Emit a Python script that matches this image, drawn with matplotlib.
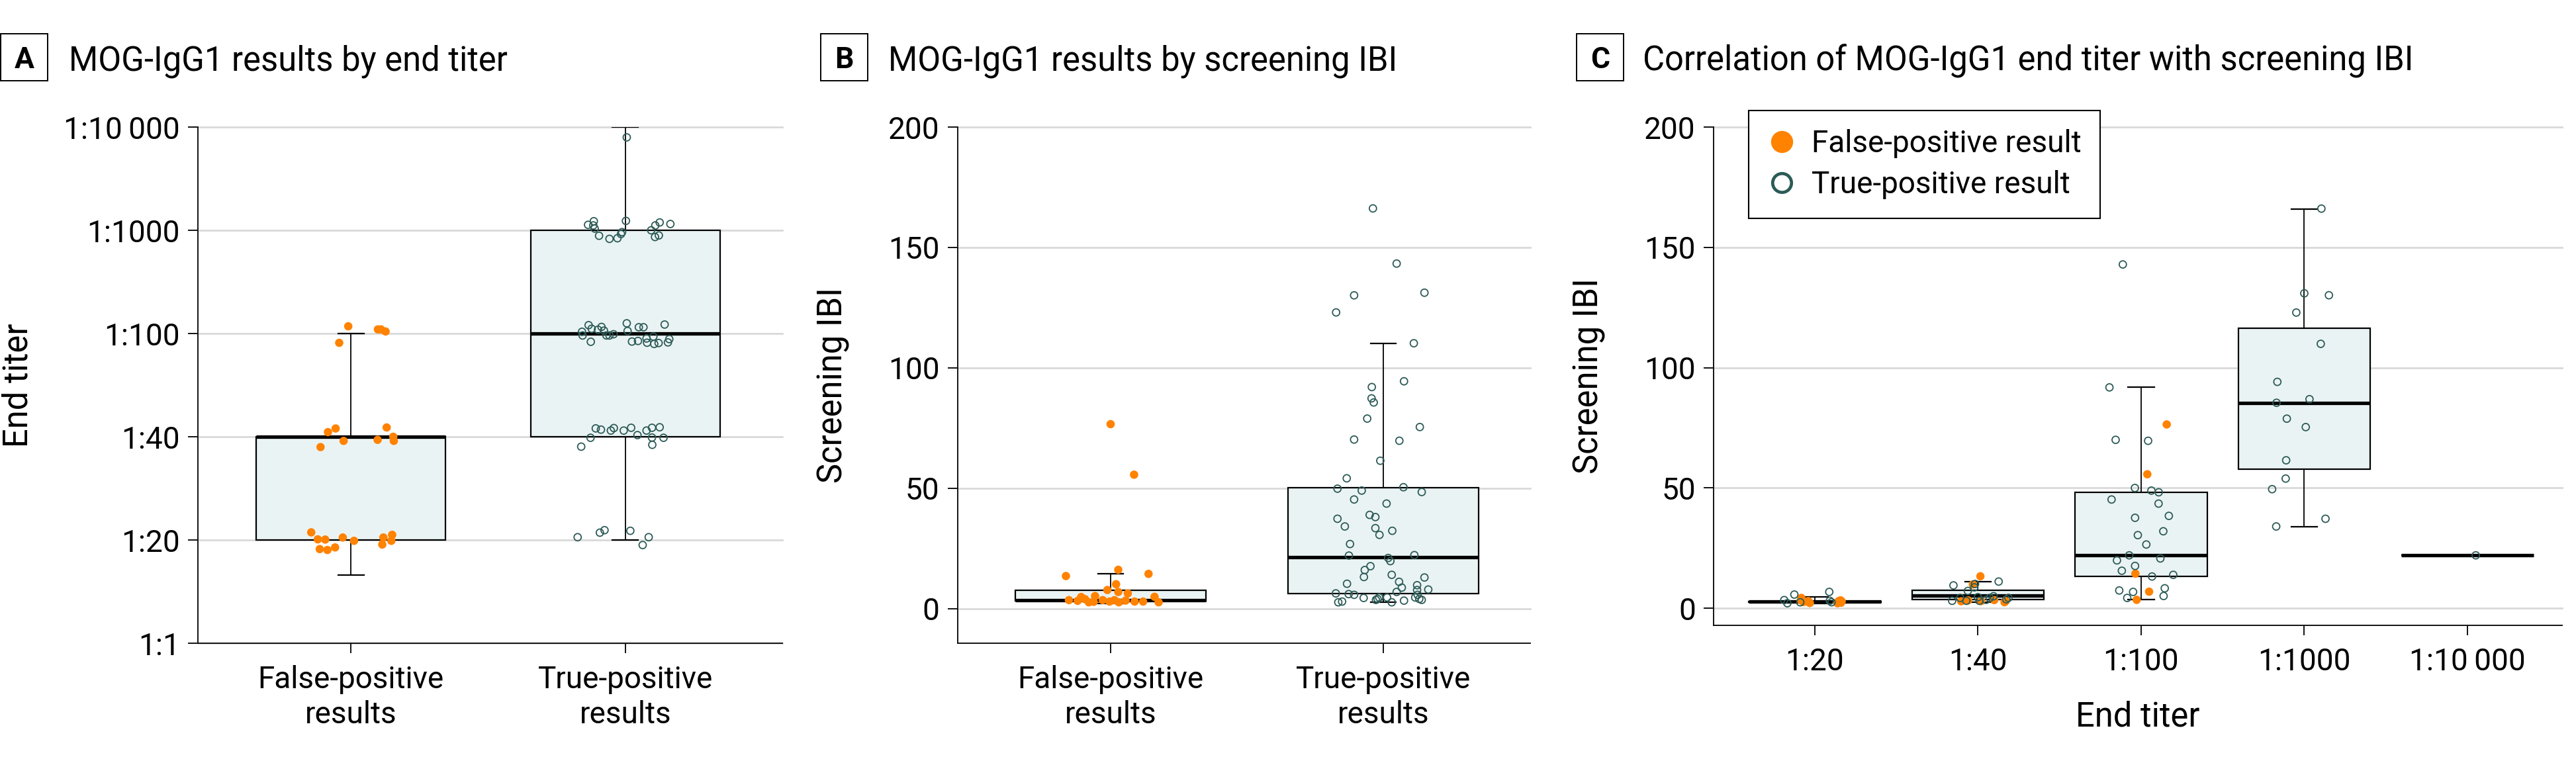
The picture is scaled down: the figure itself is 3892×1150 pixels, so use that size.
import matplotlib
matplotlib.use("Agg")
import matplotlib.pyplot as plt
from matplotlib.patches import Rectangle
from matplotlib.lines import Line2D

plt.rcParams['font.family'] = ['Roboto', 'DejaVu Sans']

# ---------------- data ----------------
groups_ab = ["False-positive\nresults", "True-positive\nresults"]
titer_labels = ["1:1", "1:20", "1:40", "1:100", "1:1000", "1:10\u2009000"]
c_titers = ["1:20", "1:40", "1:100", "1:1000", "1:10\u2009000"]

# Panel A: horizontal jitter and plotted titer level (0=1:1 ... 5=1:10000, with vertical jitter)
a_fp_dx = [-0.010, -0.043, 0.098, 0.109, 0.126,
           -0.084, -0.056, -0.111, -0.027, 0.130, 0.097, 0.154, 0.156,
           -0.145, -0.121, -0.094, -0.030, 0.011, -0.114, -0.086, -0.058, 0.118, 0.150, 0.147, 0.114]
a_fp_y = [3.07, 2.91, 3.04, 3.04, 3.02,
          2.045, 2.08, 1.90, 1.96, 2.09, 1.97, 2.00, 1.96,
          1.074, 1.006, 1.004, 1.024, 0.992, 0.912, 0.903, 0.928, 1.024, 1.05, 0.992, 0.956]
a_tp_dx = [0.005,
           -0.115, -0.136, -0.117, -0.112, -0.096, -0.058, -0.029, -0.016, -0.012, 0.002, 0.094, 0.109, 0.125, 0.164, 0.108, 0.122,
           -0.134, -0.123, -0.100, -0.087, -0.078, -0.158, -0.156, -0.126, -0.069, -0.058, -0.043, 0.005, 0.008,
           0.049, 0.066, 0.143, 0.024, 0.046, 0.077, 0.079, 0.102, 0.105, 0.121, 0.155, 0.160,
           -0.108, -0.089, -0.053, -0.042, -0.006, 0.021, 0.077, 0.097, 0.125, 0.044, 0.097, 0.139, -0.127, -0.161, 0.098,
           -0.174, -0.093, -0.076, 0.018, 0.085, 0.063]
a_tp_y = [4.90,
          4.088, 4.053, 4.047, 4.017, 3.947, 3.917, 3.923, 3.964, 3.982, 4.091, 4.0, 4.047, 4.076, 4.061, 3.935, 3.95,
          3.081, 3.046, 3.037, 3.064, 3.028, 3.017, 2.981, 2.92, 2.981, 2.981, 2.993, 3.099, 3.025,
          3.061, 3.061, 3.087, 2.922, 2.928, 2.952, 2.911, 2.970, 2.899, 2.908, 2.914, 2.946,
          2.081, 2.069, 2.06, 2.084, 2.06, 2.087, 2.06, 2.087, 2.092, 2.016, 1.992, 1.99, 1.99, 1.904, 1.922,
          1.027, 1.071, 1.095, 1.089, 1.027, 0.951]
# box statistics, panel A (in titer levels)
a_q1 = [1.0, 2.0]
a_med = [2.0, 3.0]
a_q3 = [2.0, 4.0]
a_lo = [0.66, 1.0]
a_hi = [3.0, 5.0]

# Panel B: screening IBI
b_fp_dx = [0.000, 0.086, -0.164, 0.028, 0.139, 0.020, -0.012, 0.028, 0.063, 0.161, -0.153, -0.121, -0.108,
           -0.094, -0.080, -0.062, -0.057, -0.029, -0.004, 0.014, 0.030, 0.055, 0.088, 0.119, 0.176]
b_fp_ibi = [76.6, 55.6, 13.5, 16.1, 14.4, 10.1, 7.7, 6.9, 6.3, 4.9, 3.5, 3.2, 4.8,
            3.9, 2.6, 2.8, 5.2, 3.5, 2.9, 3.5, 2.6, 3.3, 2.9, 2.9, 2.6]
b_tp_dx = [-0.038, 0.049, -0.107, 0.151, -0.173, 0.112, 0.076, -0.042, -0.043, -0.035, -0.059, 0.134, -0.107,
           0.059, -0.011, -0.134, -0.168, -0.079, 0.074, 0.141, -0.107, 0.012, -0.050, -0.029, -0.168, -0.141,
           -0.029, 0.033, -0.014, -0.122, -0.126, 0.114, 0.018, 0.026, -0.047, -0.068, -0.071, 0.031, 0.151,
           0.058, -0.133, 0.068, 0.124, 0.165, -0.174, -0.127, -0.107, -0.072, -0.021, -0.015, 0.014, 0.049,
           0.076, 0.124, 0.126, 0.132, 0.141, -0.165, -0.151, -0.027, 0.031, 0.117]
b_tp_ibi = [166.2, 143.3, 130.1, 131.2, 123.0, 110.2, 94.4, 92.0, 87.3, 85.6, 78.9, 75.4, 70.2,
            69.7, 61.4, 54.1, 49.8, 49.0, 50.4, 48.4, 45.3, 43.6, 38.9, 38.0, 37.3, 34.1,
            33.4, 32.3, 30.6, 26.8, 22.0, 22.2, 21.0, 19.7, 17.6, 16.0, 13.1, 14.0, 12.9,
            11.1, 10.3, 8.7, 9.7, 7.9, 6.3, 6.0, 5.7, 4.4, 4.0, 4.6, 4.6, 6.9,
            3.3, 7.7, 5.7, 4.0, 3.6, 2.6, 2.9, 3.6, 2.6, 4.6]
b_q1 = [3.3, 6.2]
b_med = [3.5, 21.3]
b_q3 = [7.6, 50.2]
b_lo = [2.0, 2.6]
b_hi = [14.5, 110.2]

# Panel C: end titer category index (0=1:20 ... 4=1:10000), jitter, IBI
c_fp_cat = [0] * 12 + [1] * 8 + [2] * 5
c_fp_dx = [-0.082, -0.038, 0.147, 0.161, -0.085, -0.040, 0.150, 0.158, -0.070, 0.140, -0.030, 0.165,
           0.015, -0.031, -0.103, 0.163, -0.060, 0.020, 0.100, 0.170,
           0.157, 0.038, -0.035, 0.049, -0.027]
c_fp_ibi = [4.3, 2.5, 3.0, 2.3, 3.4, 3.0, 2.6, 3.3, 2.6, 2.1, 2.2, 2.9,
            13.3, 9.9, 2.9, 2.5, 3.3, 3.0, 3.4, 3.0,
            76.4, 55.7, 14.4, 6.9, 3.5]
c_tp_cat = [0] * 7 + [1] * 15 + [2] * 26 + [3] * 15 + [4]
c_tp_dx = [-0.187, -0.168, -0.125, -0.089, 0.089, 0.092, 0.103,
           -0.150, 0.127, -0.018, -0.022, -0.062, -0.158, -0.109, -0.071, 0.009, 0.072, 0.096, 0.174, 0.187, 0.000, 0.050,
           -0.112, -0.194, -0.156, 0.043, -0.038, 0.063, 0.108, -0.181, 0.107, -0.037, 0.170, 0.136, -0.020,
           0.032, -0.073, -0.148, -0.037, 0.118, -0.118, 0.067, 0.197, -0.134, -0.049, 0.145, 0.138, -0.085,
           0.105, 0.000, 0.151, -0.049, 0.101, -0.165, -0.170, 0.032, -0.107, 0.009, -0.111, -0.114, -0.197, 0.130, -0.172,
           0.051]
c_tp_ibi = [3.4, 2.1, 5.7, 2.5, 6.8, 3.1, 2.5,
            9.5, 11.1, 10.1, 8.7, 7.2, 3.1, 4.3, 3.1, 3.1, 4.3, 5.0, 3.7, 4.3, 4.6, 3.5,
            142.9, 91.8, 70.0, 69.6, 50.0, 48.9, 48.2, 45.2, 43.5, 37.6, 38.4, 32.0, 30.4,
            26.5, 22.0, 19.9, 17.6, 20.7, 15.6, 13.2, 13.9, 7.4, 6.8, 8.3, 5.1, 4.3,
            166.1, 130.9, 130.1, 122.9, 109.9, 94.1, 85.4, 86.9, 78.8, 75.3, 61.5, 53.9, 49.5, 37.2, 34.0,
            22.0]
c_q1 = [2.4, 3.7, 13.2, 57.7, 22.0]
c_med = [2.7, 5.2, 22.0, 85.2, 22.0]
c_q3 = [2.9, 7.4, 48.2, 116.5, 22.0]
c_lo = [2.0, 2.5, 3.5, 34.0, 22.0]
c_hi = [4.6, 11.1, 91.9, 165.9, 22.0]

# ---------------- style ----------------
ORANGE = "#FF8200"
TEAL = "#2C5B57"
BOXFILL = "#EAF3F4"
GRID = "#D9D9D9"
TICK_FS = 33
LABEL_FS = 36.5

W, H = 3892, 1150
fig = plt.figure(figsize=(W / 100, H / 100), dpi=100)
fig.patch.set_facecolor("white")


def axes_px(l, r, t, b):
    return fig.add_axes([l / W, 1 - b / H, (r - l) / W, (b - t) / H])


def style(ax, yticks, ylabels):
    for s in ["top", "right"]:
        ax.spines[s].set_visible(False)
    for s in ["left", "bottom"]:
        ax.spines[s].set_linewidth(1.4)
        ax.spines[s].set_color("#111111")
    ax.set_yticks(yticks)
    ax.set_yticklabels(ylabels)
    ax.tick_params(axis="y", direction="out", length=11, width=1.4, labelsize=TICK_FS, pad=8.6, color="#111111")
    ax.tick_params(axis="x", direction="out", length=11, width=1.4, labelsize=TICK_FS, pad=13, color="#111111")
    for v in yticks:
        ax.axhline(v, color=GRID, lw=2.0, zorder=0, clip_on=False)


def draw_boxes(ax, q1, med, q3, lo, hi, width, capw):
    stats = []
    for i in range(len(q1)):
        stats.append(dict(q1=q1[i], med=med[i], q3=q3[i], whislo=lo[i], whishi=hi[i], fliers=[]))
    ax.bxp(stats, positions=list(range(len(q1))), widths=width, patch_artist=True, showfliers=False,
           manage_ticks=False, capwidths=capw, zorder=1,
           boxprops=dict(facecolor=BOXFILL, edgecolor="black", linewidth=1.6),
           medianprops=dict(color="black", linewidth=3.8, solid_capstyle="butt"),
           whiskerprops=dict(color="black", linewidth=1.3),
           capprops=dict(color="black", linewidth=1.6))


def fp_scatter(ax, x, y):
    ax.scatter(x, y, s=82, color=ORANGE, edgecolors="none", zorder=3, clip_on=False)


def tp_scatter(ax, x, y):
    ax.scatter(x, y, s=62, facecolors="none", edgecolors=TEAL, linewidths=1.3, zorder=3, clip_on=False)


# ---------------- Panel A ----------------
axA = axes_px(299, 1182, 192, 972)
axA.set_xlim(-0.558, 1.572)
axA.set_ylim(0, 5)
style(axA, list(range(len(titer_labels))), titer_labels)
axA.set_xticks([0, 1])
axA.set_xticklabels(groups_ab, linespacing=1.25)
draw_boxes(axA, a_q1, a_med, a_q3, a_lo, a_hi, 0.69, 0.094)
fp_scatter(axA, [0 + d for d in a_fp_dx], a_fp_y)
tp_scatter(axA, [1 + d for d in a_tp_dx], a_tp_y)

# ---------------- Panel B ----------------
axB = axes_px(1446.5, 2312, 192, 972)
axB.set_xlim(-0.562, 1.539)
axB.set_ylim(-14.4, 200)
style(axB, [0, 50, 100, 150, 200], ["0", "50", "100", "150", "200"])
axB.set_xticks([0, 1])
axB.set_xticklabels(groups_ab, linespacing=1.25)
draw_boxes(axB, b_q1, b_med, b_q3, b_lo, b_hi, 0.70, 0.094)
fp_scatter(axB, [0 + d for d in b_fp_dx], b_fp_ibi)
tp_scatter(axB, [1 + d for d in b_tp_dx], b_tp_ibi)

# ---------------- Panel C ----------------
axC = axes_px(2589, 3871, 192, 945)
axC.set_xlim(-0.62, 4.58)
axC.set_ylim(-7.1, 200)
style(axC, [0, 50, 100, 150, 200], ["0", "50", "100", "150", "200"])
axC.set_xticks(list(range(len(c_titers))))
axC.set_xticklabels(c_titers)
draw_boxes(axC, c_q1, c_med, c_q3, c_lo, c_hi, 0.81, 0.16)
fp_scatter(axC, [c + d for c, d in zip(c_fp_cat, c_fp_dx)], c_fp_ibi)
tp_scatter(axC, [c + d for c, d in zip(c_tp_cat, c_tp_dx)], c_tp_ibi)

handles = [Line2D([], [], ls="none", marker="o", markersize=24, markerfacecolor=ORANGE, markeredgecolor=ORANGE,
                  markeredgewidth=0),
           Line2D([], [], ls="none", marker="o", markersize=20.5, markerfacecolor="none", markeredgecolor=TEAL,
                  markeredgewidth=3.4)]
leg = axC.legend(handles, ["False-positive result", "True-positive result"], loc="upper left",
                 bbox_to_anchor=(0.0413, 1.0332), borderaxespad=0, fontsize=TICK_FS, frameon=True,
                 fancybox=False, framealpha=1, edgecolor="black", labelspacing=0.39, borderpad=0.62,
                 handlelength=0.94, handletextpad=0.51)
leg.get_frame().set_linewidth(1.5)
leg.set_zorder(5)

# ---------------- titles and axis labels ----------------
panels = [("A", "MOG-IgG1 results by end titer", 1, 104),
          ("B", "MOG-IgG1 results by screening IBI", 1240, 1341.5),
          ("C", "Correlation of MOG-IgG1 end titer with screening IBI", 2382, 2482)]
for letter, title, bx, tx in panels:
    fig.add_artist(Rectangle((bx / W, 1 - 122 / H), 71 / W, 71 / H, transform=fig.transFigure,
                             fill=False, edgecolor="black", linewidth=1.4))
    fig.text((bx + 35.5) / W, 1 - 103 / H, letter, ha="center", va="baseline", fontsize=32, fontweight="bold")
    fig.text(tx / W, 1 - 106 / H, title, ha="left", va="baseline", fontsize=LABEL_FS)

fig.text(28 / W, 1 - 582 / H, "End titer", rotation=90, ha="center", va="center", fontsize=LABEL_FS)
fig.text(1259 / W, 1 - 582 / H, "Screening IBI", rotation=90, ha="center", va="center", fontsize=LABEL_FS)
fig.text(2401 / W, 1 - 568 / H, "Screening IBI", rotation=90, ha="center", va="center", fontsize=LABEL_FS)
fig.text(3230 / W, 1 - 1097 / H, "End titer", ha="center", va="baseline", fontsize=LABEL_FS)

fig.savefig("out.png", dpi=100, facecolor="white")
